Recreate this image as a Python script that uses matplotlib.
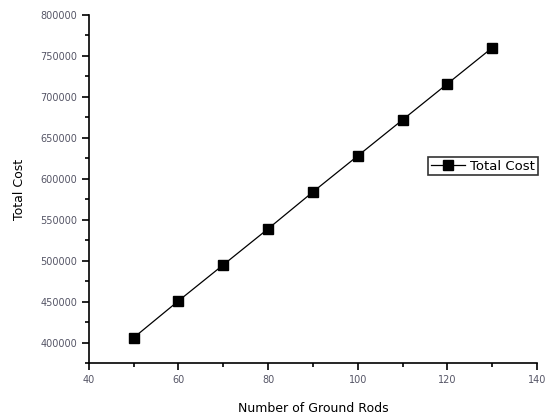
import numpy as np
import matplotlib.pyplot as plt
from matplotlib.ticker import MultipleLocator

rods = [50, 60, 70, 80, 90, 100, 110, 120, 130]
cost = [406000, 451000, 495000, 539000, 584000, 628000, 672000, 716000, 760000]

fig = plt.figure(figsize=(5.48, 4.16), dpi=100)
ax = fig.add_axes([0.162, 0.127, 0.818, 0.837])

ax.plot(rods, cost, color='black', lw=0.9, marker='s', ms=6.5, label='Total Cost')

ax.set_xlim(40, 140)
ax.set_ylim(375000, 800000)
ax.xaxis.set_major_locator(MultipleLocator(20))
ax.xaxis.set_minor_locator(MultipleLocator(10))
ax.yaxis.set_major_locator(MultipleLocator(50000))
ax.yaxis.set_minor_locator(MultipleLocator(25000))

for s in ['top', 'right']:
    ax.spines[s].set_visible(False)
for s in ['left', 'bottom']:
    ax.spines[s].set_linewidth(1.2)

ax.tick_params(which='major', direction='out', length=5, width=1.2, labelsize=7, labelcolor='#555566')
ax.tick_params(which='minor', direction='out', length=3, width=1.2)

ax.set_xlabel('Number of Ground Rods', fontsize=9, labelpad=12)
ax.set_ylabel('Total Cost', fontsize=9, labelpad=10)

leg = ax.legend(loc='upper left', bbox_to_anchor=(0.757, 0.592), fontsize=9.5,
                frameon=True, fancybox=False, borderpad=0.2, handlelength=2.6,
                handletextpad=0.4, borderaxespad=0)
leg.get_frame().set_edgecolor('black')
leg.get_frame().set_linewidth(1.2)

fig.savefig('out.png', dpi=100)
